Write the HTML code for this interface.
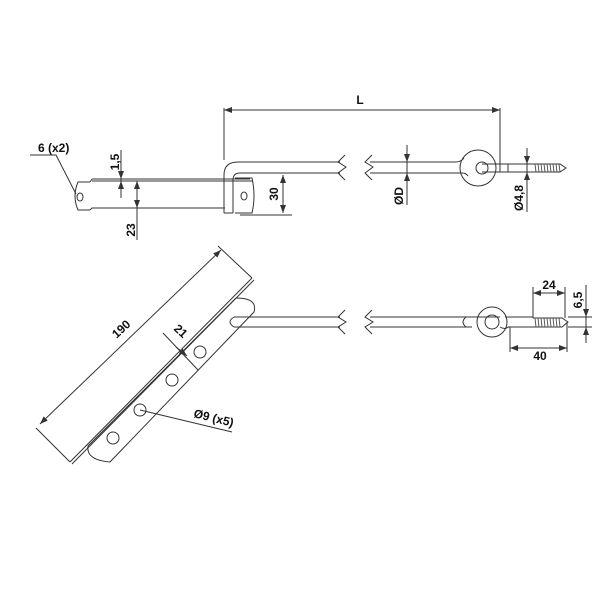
<!DOCTYPE html>
<html><head><style>body{margin:0;background:#fff}svg{display:block}text{font-family:"Liberation Sans",sans-serif;font-weight:bold;font-size:12px;fill:#111}</style></head>
<body>
<svg width="600" height="600" viewBox="0 0 600 600" xmlns="http://www.w3.org/2000/svg">
<defs><marker id="a" markerWidth="8" markerHeight="6" refX="8" refY="3" orient="auto-start-reverse" markerUnits="userSpaceOnUse"><path d="M0,0 L8,3 L0,6z" fill="#333"/></marker></defs>
<g fill="none" stroke="#333" stroke-width="1">
<path d="M92,179 L250,179 M92,181 L253,181"/>
<path d="M90,182 L78,182 Q72,196 78,210 L90,210 M90,182 L92,179 M90,210 L92,208 L225,208"/>
<ellipse cx="80" cy="197" rx="3" ry="4"/>
<path d="M224,213 L224,175 Q224,162 238,162 L340,162 M233,213 L233,180 Q233,173 240,173 L340,173 M224,213 L233,213"/>
<path d="M235,178 L252,178 Q256,196 252,213 L235,213"/>
<ellipse cx="244" cy="196" rx="3" ry="4"/>
<path d="M224,108 L224,160 M500,108 L500,172"/>
<path d="M224,110 L500,110" marker-start="url(#a)" marker-end="url(#a)"/>
<path d="M240,173 L292,173 M240,215 L292,215"/>
<path d="M283,175 L283,213" marker-start="url(#a)" marker-end="url(#a)"/>
<path d="M121,150 L121,198"/><path d="M121,170 L121,179" marker-end="url(#a)"/><path d="M121,190 L121,181" marker-end="url(#a)"/>
<path d="M137,240 L137,181" marker-end="url(#a)"/><path d="M137,190 L137,208" marker-end="url(#a)"/>
<path d="M30,155 L56,155 L76,194"/>
<path d="M345,155 L338,162 L346,167 L338,173 L345,180 M372,155 L365,162 L373,167 L365,173 L372,180"/>
<path d="M370,162 L455,162 Q461,162 464,158 M370,173 L462,173 Q466,173 468,176"/>
<circle cx="478" cy="168" r="18"/><circle cx="482" cy="168" r="6"/>
<path d="M482,164 L508,164 L508,172 L482,172 M508,164 L533,164 M508,172 L533,172"/>
<path d="M533,164 L560,164 L566,168 L560,172 L533,172"/>
<path d="M535,164 l1,8 M538,164 l1,8 M541,164 l1,8 M544,164 l1,8 M547,164 l1,8 M550,164 l1,8 M553,164 l1,8 M556,164 l1,8 M559,164 l1,8" stroke="#555"/>
<path d="M407,145 L407,205"/><path d="M407,150 L407,162" marker-end="url(#a)"/><path d="M407,185 L407,173" marker-end="url(#a)"/>
<path d="M527,148 L527,212"/><path d="M527,152 L527,164" marker-end="url(#a)"/><path d="M527,184 L527,172" marker-end="url(#a)"/>
<path d="M70,462 L252,278 M72,464 L254,280"/>
<path d="M88,446 L236,298 M110,462 L254,312"/>
<path d="M88,446 Q86,460 110,462 M236,298 Q258,298 254,312"/>
<circle cx="113" cy="438" r="6"/><circle cx="140" cy="410" r="6"/><circle cx="172" cy="380" r="6"/><circle cx="200" cy="352" r="6"/>
<path d="M234,317 L340,317 M234,327 L340,327 M234,317 Q226,322 234,327"/>
<path d="M345,310 L338,317 L346,322 L338,327 L345,334 M372,310 L365,317 L373,322 L365,327 L372,334"/>
<path d="M370,317 L500,317 M370,327 L472,327 M466,317 Q460,322 466,327"/>
<circle cx="492" cy="322" r="15"/><circle cx="492" cy="322" r="7"/>
<path d="M500,327 Q505,330 508,327 L533,327 M505,317 L533,317"/>
<path d="M533,318 L562,318 L568,322 L562,327 L533,327"/>
<path d="M535,318 l1,9 M538,318 l1,9 M541,318 l1,9 M544,318 l1,9 M547,318 l1,9 M550,318 l1,9 M553,318 l1,9 M556,318 l1,9 M559,318 l1,9" stroke="#555"/>
<path d="M533,287 L533,318 M565,287 L565,318 M510,327 L510,352 M567,322 L567,352"/>
<path d="M533,293 L565,293" marker-start="url(#a)" marker-end="url(#a)"/>
<path d="M510,348 L567,348" marker-start="url(#a)" marker-end="url(#a)"/>
<path d="M568,317 L592,317 M568,327 L592,327 M586,285 L586,343"/>
<path d="M586,300 L586,317" marker-end="url(#a)"/><path d="M586,340 L586,327" marker-end="url(#a)"/>
<path d="M36,428 L70,462 M218,246 L252,278"/>
<path d="M40,424 L221,250" marker-start="url(#a)" marker-end="url(#a)"/>
<path d="M163,333 L198,370"/><path d="M176,347 L187,356" marker-end="url(#a)"/>
<path d="M140,410 L232,432"/>
</g>
<text x="360" y="104" text-anchor="middle">L</text>
<text x="38" y="152">6 (x2)</text>
<text transform="translate(119,162) rotate(-90)" text-anchor="middle">1,5</text>
<text transform="translate(135,230) rotate(-90)" text-anchor="middle">23</text>
<text transform="translate(278,194) rotate(-90)" text-anchor="middle">30</text>
<text transform="translate(403,196) rotate(-90)" text-anchor="middle">ØD</text>
<text transform="translate(523,198) rotate(-90)" text-anchor="middle">Ø4,8</text>
<text x="549" y="289" text-anchor="middle">24</text>
<text x="540" y="360" text-anchor="middle">40</text>
<text transform="translate(582,300) rotate(-90)" text-anchor="middle">6,5</text>
<text transform="translate(124,332) rotate(-43)" text-anchor="middle">190</text>
<text transform="translate(178,334) rotate(43)" text-anchor="middle">21</text>
<text transform="translate(193,417) rotate(14)" text-anchor="start">Ø9 (x5)</text>
</svg>
</body></html>
